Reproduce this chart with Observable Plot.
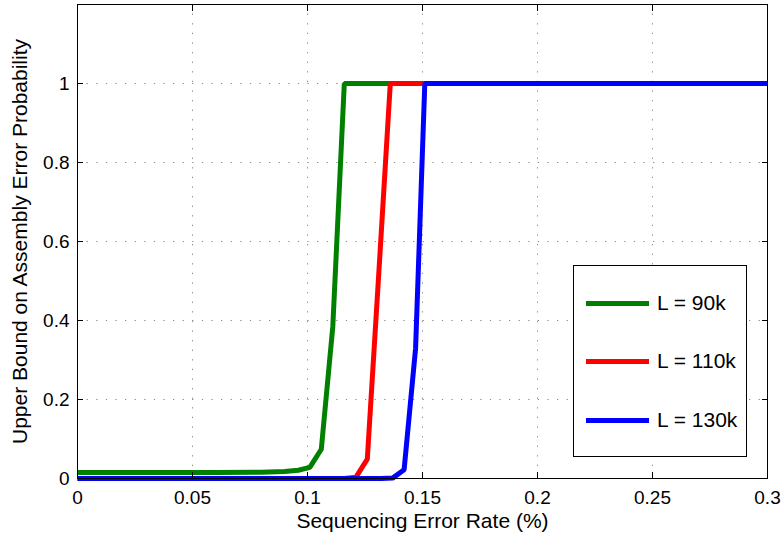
<!DOCTYPE html>
<html>
<head>
<meta charset="utf-8">
<script src="https://cdn.jsdelivr.net/npm/d3@7"></script>
<script src="https://cdn.jsdelivr.net/npm/@observablehq/plot@0.6"></script>
<style>
  body { margin: 0; background: #fff; }
  #wrap { position: relative; width: 782px; height: 533px; font-family: "Liberation Sans", Arial, Helvetica, sans-serif; }
  #legend { position: absolute; left: 573px; top: 265px; width: 174px; height: 192px; border: 1px solid #000; background: #fff; box-sizing: border-box; }
  .item { position: absolute; left: 12px; height: 24px; display: flex; align-items: center; }
  .sw { width: 63px; height: 5px; margin-right: 8px; }
  .lab { font-size: 21px; color: #000; white-space: nowrap; }
</style>
</head>
<body>
<div id="wrap"></div>
<script>
// ---- data ----
const seriesNames = ["L = 90k", "L = 110k", "L = 130k"];
const seriesColors = ["#008000", "#ff0000", "#0000ff"];

const greenX = [0, 0.02, 0.04, 0.06, 0.08, 0.09, 0.096, 0.101, 0.106, 0.111, 0.116, 0.2, 0.3];
const greenY = [0.015, 0.015, 0.015, 0.015, 0.016, 0.018, 0.021, 0.028, 0.074, 0.385, 1, 1, 1];

const redX = [0, 0.05, 0.1, 0.116, 0.121, 0.126, 0.131, 0.136, 0.2, 0.3];
const redY = [0, 0, 0, 0, 0.003, 0.049, 0.52, 1, 1, 1];

const blueX = [0, 0.05, 0.1, 0.132, 0.137, 0.142, 0.147, 0.151, 0.2, 0.3];
const blueY = [0, 0, 0, 0, 0.001, 0.022, 0.33, 1, 1, 1];

const xTicks = [0, 0.05, 0.1, 0.15, 0.2, 0.25, 0.3];
const xTickLabels = ["0", "0.05", "0.1", "0.15", "0.2", "0.25", "0.3"];
const yTicks = [0, 0.2, 0.4, 0.6, 0.8, 1];
const yTickLabels = ["0", "0.2", "0.4", "0.6", "0.8", "1"];

const xLabel = "Sequencing Error Rate (%)";
const yLabel = "Upper Bound on Assembly Error Probability";

// ---- build table ----
const allX = [greenX, redX, blueX];
const allY = [greenY, redY, blueY];
const data = [];
allX.forEach((xs, s) => xs.forEach((x, i) => data.push({series: seriesNames[s], x, y: allY[s][i]})));

const font = "'Liberation Sans', Arial, Helvetica, sans-serif";
const gridStyle = {stroke: "#8c8c8c", strokeOpacity: 1, strokeWidth: 1, strokeDasharray: "1.3,8.3"};

const chart = Plot.plot({
  width: 782,
  height: 533,
  marginLeft: 77,
  marginRight: 15,
  marginTop: 4,
  marginBottom: 55,
  style: {fontFamily: font, background: "#fff", color: "#000", overflow: "visible"},
  x: {domain: [0, 0.3]},
  y: {domain: [0, 1.2]},
  color: {domain: seriesNames, range: seriesColors},
  marks: [
    Plot.gridX(xTicks, gridStyle),
    Plot.gridY(yTicks, gridStyle),
    Plot.line(data, {x: "x", y: "y", z: "series", stroke: "series", strokeWidth: 5, strokeLinejoin: "miter", strokeLinecap: "butt"}),
    Plot.frame({stroke: "#000", strokeWidth: 1}),
    // inward ticks on all four sides
    Plot.axisX(xTicks, {anchor: "bottom", tickSize: -6, tickFormat: () => "", label: null}),
    Plot.axisX(xTicks, {anchor: "top", tickSize: -6, tickFormat: () => "", label: null}),
    Plot.axisY(yTicks, {anchor: "left", tickSize: -6, tickFormat: () => "", label: null}),
    Plot.axisY(yTicks, {anchor: "right", tickSize: -6, tickFormat: () => "", label: null}),
    // tick labels
    Plot.axisX(xTicks, {anchor: "bottom", tickSize: 0, tickPadding: 12, fontSize: 19,
      tickFormat: d => xTickLabels[xTicks.indexOf(d)], label: null}),
    Plot.axisY(yTicks, {anchor: "left", tickSize: 0, tickPadding: 8, fontSize: 19,
      tickFormat: d => yTickLabels[yTicks.indexOf(d)], label: null}),
    // axis titles
    Plot.text([xLabel], {frameAnchor: "bottom", lineAnchor: "middle", textAnchor: "middle", dy: 43, fontSize: 21, text: d => d, fill: "#000"}),
    Plot.text([yLabel], {frameAnchor: "left", textAnchor: "middle", lineAnchor: "middle", rotate: -90, dx: -57, fontSize: 21, text: d => d, fill: "#000"})
  ]
});

const wrap = document.getElementById("wrap");
wrap.appendChild(chart);

// legend (boxed, inside the plot area)
const legend = document.createElement("div");
legend.id = "legend";
const centers = [37, 95, 154];
seriesNames.forEach((name, i) => {
  const item = document.createElement("div");
  item.className = "item";
  item.style.top = (centers[i] - 12) + "px";
  const sw = document.createElement("div");
  sw.className = "sw";
  sw.style.background = seriesColors[i];
  const lab = document.createElement("span");
  lab.className = "lab";
  lab.textContent = name;
  item.appendChild(sw);
  item.appendChild(lab);
  legend.appendChild(item);
});
wrap.appendChild(legend);
</script>
</body>
</html>
